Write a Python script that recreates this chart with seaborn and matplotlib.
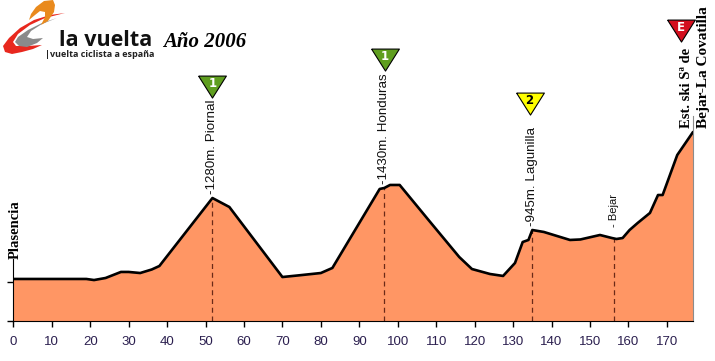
import matplotlib
matplotlib.use('Agg')
import matplotlib.pyplot as plt
from matplotlib.patches import Polygon
import seaborn as sns
import pandas as pd

# perfil de la etapa
km = [0, 19, 21, 24, 28, 30, 33, 36, 38, 51.8, 56.2, 70, 74, 80, 83, 95.3, 96.5, 98, 100.5,
      108, 116, 119.3, 124, 127.4, 130.5, 132.5, 134, 135, 138, 144.8, 147.5, 152.6, 155.7,
      156.9, 158.5, 160.3, 162.4, 165.6, 167.7, 168.9, 172.7, 176.8]
altitude = [431, 431, 420, 441, 503, 503, 492, 528, 564, 1261, 1169, 451, 467, 492, 544, 1354, 1364, 1395, 1395,
            1036, 656, 533, 482, 462, 595, 810, 831, 933, 913, 831, 836, 882, 851,
            841, 851, 933, 1005, 1108, 1292, 1292, 1702, 1938]

peak_km = [51.8, 96.5, 135, 156.3]
peak_alt = [1261, 1364, 933, 851]
peak_labels = ['1280m. Piornal', '1430m. Honduras', '945m. Lagunilla', 'Bejar']

badge_km = [51.8, 96.6, 134.3, 173.6]
badge_alt = [2410, 2690, 2240, 2980]
badge_text = ['1', '1', '2', 'E']
badge_colors = ['#5f9e1f', '#5f9e1f', '#ffff00', '#d40f1e']
badge_text_colors = ['white', 'white', 'black', 'white']

x_ticks = list(range(0, 171, 10))
df = pd.DataFrame({'km': km, 'altitude': altitude})

sns.set_style('white')
fig = plt.figure(figsize=(7.15, 3.61), dpi=100)
ax = fig.add_axes([13.3 / 715, 40 / 361, 679.7 / 715, 216 / 361])

ax.fill_between(km, altitude, 0, color='#ff9664', lw=0, zorder=1)
sns.lineplot(data=df, x='km', y='altitude', ax=ax, color='black', lw=1.9, zorder=3)
ax.set_xlim(0, 176.8)
ax.set_ylim(0, 2215)
ax.set_xlabel('')
ax.set_ylabel('')

# lineas de puertos
ax.vlines(peak_km, 0, peak_alt, color='#6b2a18', lw=0.9, ls=(0, (4, 3)), zorder=2)

ax.spines['top'].set_visible(False)
ax.spines['left'].set_bounds(0, 640)
ax.spines['left'].set_color('black')
ax.spines['bottom'].set_color('black')
ax.spines['right'].set_color('#8c8c8c')
ax.spines['right'].set_bounds(0, 2100)

ax.set_xticks(x_ticks)
ax.set_yticks([0, 400])
ax.set_yticklabels([])
ax.tick_params(axis='x', length=4, width=1, color='black', labelsize=9.5,
               labelcolor='#2b1f4f', pad=7, bottom=True)
ax.tick_params(axis='y', length=4, width=1, color='black', left=True)
for lab in ax.get_xticklabels():
    lab.set_family('Liberation Sans')

# rotulos de altos
for x, y, t in zip(peak_km[:3], peak_alt[:3], peak_labels[:3]):
    ax.annotate('-' + t, (x, y), xytext=(0, 3), textcoords='offset points', rotation=90,
                ha='center', va='bottom', family='Liberation Sans', fontsize=9.6, color='#111111')
ax.annotate('- ' + peak_labels[3], (peak_km[3], peak_alt[3]), xytext=(0, 8), textcoords='offset points',
            rotation=90, ha='center', va='bottom', family='Liberation Sans', fontsize=8, color='#111111')

# salida y meta
ax.text(0.5, 640, 'Plasencia', rotation=90, ha='center', va='bottom', family='Liberation Serif',
        fontweight='bold', fontsize=10.5, color='black')
ax.text(179.6, 1980, 'Bejar-La Covatilla', rotation=90, ha='center', va='bottom', family='Liberation Serif',
        fontweight='bold', fontsize=11, color='black', clip_on=False)
ax.text(175.2, 1980, 'Est. ski Sª de', rotation=90, ha='center', va='bottom', family='Liberation Serif',
        fontweight='bold', fontsize=10.5, color='black', clip_on=False)

# triangulos de categoria
tri = [(-1.2, 0.9), (1.2, 0.9), (0, -1), (-1.2, 0.9)]
for x, y, t, c, tc in zip(badge_km, badge_alt, badge_text, badge_colors, badge_text_colors):
    ax.scatter([x], [y], marker=tri, s=400, color=c, edgecolor='black', linewidth=0.8,
               clip_on=False, zorder=5)
    ax.text(x, y + 25, t, ha='center', va='center', color=tc, fontsize=8.5, fontweight='bold',
            family='DejaVu Sans', zorder=6, clip_on=False)

# logo
logo = fig.add_axes([0, 0, 1, 1], zorder=10)
logo.set_xlim(0, 715)
logo.set_ylim(361, 0)
logo.axis('off')
logo.patch.set_alpha(0)

logo.add_patch(Polygon([(65, 13), (50, 15), (34, 20), (20, 28), (9, 38), (3, 46), (5, 52), (12, 54), (22, 52),
                        (33, 49), (42, 45), (28, 46), (16, 46), (13, 42), (18, 34), (30, 25), (45, 18)],
                       fc='#e8281e', ec='none'))
logo.add_patch(Polygon([(57, 18), (42, 23), (28, 30), (18, 37), (15, 42), (19, 46), (27, 47), (37, 43), (43, 38),
                        (33, 39), (27, 37), (31, 31), (42, 24)], fc='#8a8a8a', ec='none'))
logo.add_patch(Polygon([(53, 0), (44, 1), (36, 7), (31, 14), (29, 20), (35, 15), (40, 11), (45, 12), (45, 17),
                        (41, 25), (48, 21), (54, 12), (55, 5)], fc='#e98a1d', ec='none'))

logo.text(59, 41, 'la vuelta', family='Open Sans', fontweight='bold', fontsize=15.5,
          va='center', ha='left', color='#111111')
logo.text(45, 54.5, '|vuelta ciclista a españa', family='Open Sans', fontweight='bold', fontsize=6.5,
          va='center', ha='left', color='#222222')
logo.text(163, 42, 'Año 2006', family='Liberation Serif', fontweight='bold', style='italic', fontsize=15,
          va='center', ha='left', color='black')

fig.savefig('out.png', dpi=100, facecolor='white')
